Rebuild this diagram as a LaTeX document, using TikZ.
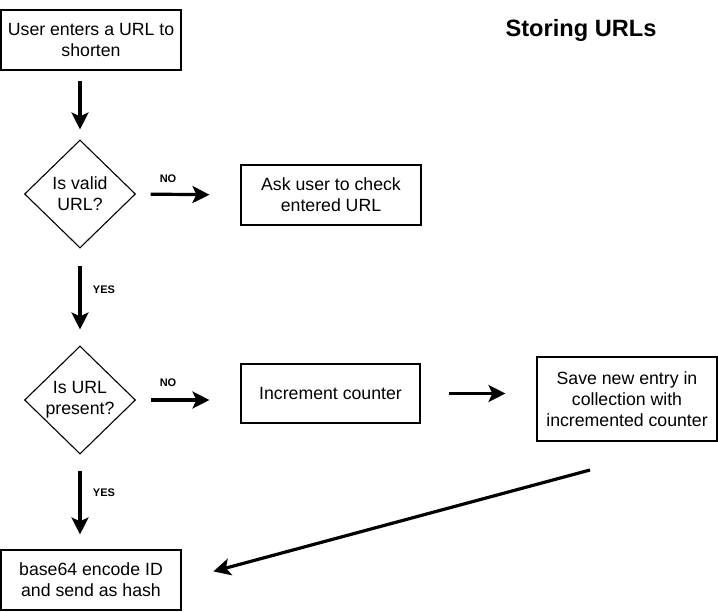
\documentclass[tikz,border=0pt]{standalone}
\usepackage{fontspec}
\setmainfont{Liberation Sans}
\usetikzlibrary{arrows.meta,shapes.geometric}
\tikzset{flow/.style={line width=3.2pt, -{Stealth[length=17pt,width=17pt,inset=4pt]}},
  blk/.style={draw, line width=1.1pt, align=center, minimum width=180pt, minimum height=60pt,
    font=\fontsize{17.7}{21.2}\selectfont},
  dec/.style={draw, diamond, line width=1.1pt, align=center, inner sep=0pt,
    minimum width=111pt, minimum height=108pt, font=\fontsize{17.7}{21.2}\selectfont},
  tag/.style={font=\fontsize{11}{13}\selectfont\bfseries}}

\begin{document}
\begin{tikzpicture}[x=1pt, y=-1pt]
  \useasboundingbox (0,0) rectangle (718,611);
  \node[font=\fontsize{23.6}{28}\selectfont\bfseries] (title) at (581,30) {Storing URLs};
  % main column
  \node[blk] (start) at (91,40) {User enters a URL to\\shorten};
  \node[dec] (valid) at (80,194) {Is valid\\URL?};
  \node[dec] (present) at (80,400) {Is URL\\present?};
  \node[blk] (base) at (91,580) {base64 encode ID\\and send as hash};
  % side branches
  \node[blk] (ask) at (331,195) {Ask user to check\\entered URL};
  \node[blk, minimum width=179pt, minimum height=59pt] (inc) at (330.5,393.5) {Increment counter};
  \node[blk, minimum height=84pt] (save) at (627,399) {Save new entry in\\collection with\\incremented counter};
  \node[tag] (no1) at (168,179) {NO};
  \node[tag] (no2) at (168,383) {NO};
  \node[tag] (yes1) at (104,290) {YES};
  \node[tag] (yes2) at (104,493) {YES};
  \coordinate (back) at (590,470);
  \draw[flow, shorten <=10pt, shorten >=10pt] (start.south -| valid.north) -- (valid.north);
  \draw[flow, shorten <=14.5pt, shorten >=31pt] (valid.east) -- (ask.west);
  \draw[flow, shorten <=17pt, shorten >=16pt] (valid.south) -- (present.north);
  \draw[flow, shorten <=14.5pt, shorten >=31pt] (present.east) -- (present.east -| inc.west);
  \draw[flow, shorten <=28pt, shorten >=31pt] (inc.east) -- (inc.east -| save.west);
  \draw[flow, shorten <=16pt, shorten >=15pt] (present.south) -- (present.south |- base.north);
  \draw[flow, shorten >=33pt] (back) -- (base.east);
\end{tikzpicture}
\end{document}
